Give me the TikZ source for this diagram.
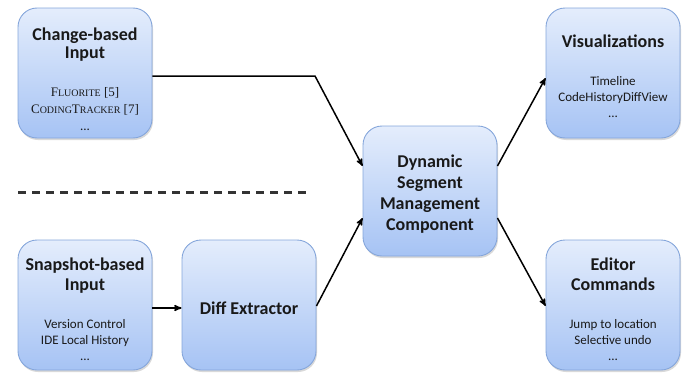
\documentclass[tikz,border=0pt]{standalone}
\usepackage{fontspec}
\usepackage{tikz}
\usetikzlibrary{
    arrows,
    shadows,
    positioning,
}
\newfontfamily\calibri{Carlito}
\newfontfamily\timesfont{Liberation Serif}
\newcommand{\ttl}[1]{{\calibri\bfseries\fontsize{18}{21}\selectfont #1}}
\newcommand{\dtl}[1]{{\calibri\fontsize{13}{16}\selectfont #1}}
\newcommand{\fakesc}[2]{#1{\fontsize{10}{16}\selectfont #2}}
\newcommand{\citesc}[2]{{\timesfont\fontsize{13}{16}\selectfont #1 [#2]}}
\newcommand{\push}[1]{\rule{0pt}{#1}}
\definecolor{boxTop}{HTML}{E4EDFC}
\definecolor{boxBottom}{HTML}{A6C3F4}
\definecolor{boxBorder}{HTML}{85A6DB}

\begin{document}
\begin{tikzpicture}[x=1pt,y=-1pt,>=stealth',auto]

    \tikzstyle{commonNode}=[align=center, font=\calibri\fontsize{13}{16}\selectfont, text=black!90]
    \tikzstyle{module}=[commonNode, rectangle, rounded corners=19pt, draw=boxBorder, line width=0.9pt,
        top color=boxTop, bottom color=boxBottom, minimum width=134pt, minimum height=130pt, inner sep=0pt,
        drop shadow={shadow xshift=1pt, shadow yshift=-2pt, opacity=0.25, fill=black!60}]
    \tikzstyle{post}=[->, line width=1.5pt, black]
    \tikzstyle{separator}=[line width=3pt, black!80, dash pattern=on 8pt off 6pt]

    \useasboundingbox (0,0) rectangle (690,372);

    % Inputs
    \node at (85,73)  [module] (CBI) {\ttl{\push{25pt}Change-based}\\[2pt]\ttl{Input}\\[22pt]
        \citesc{\fakesc{F}{LUORITE}}{5}\\[1pt]\citesc{\fakesc{C}{ODING}\fakesc{T}{RACKER}}{7}\\[1pt]...};
    \node at (85,305) [module] (SBI) {\ttl{\push{21pt}Snapshot-based}\\[4pt]\ttl{Input}\\[22pt]
        \dtl{Version Control}\\\dtl{IDE Local History}\\...};

    % Processing
    \node at (249,305) [module] (DE)   {\ttl{\push{19pt}Diff Extractor}};
    \node at (430,191) [module] (DSMC) {\ttl{\push{19pt}Dynamic}\\[5pt]\ttl{Segment}\\[5pt]\ttl{Management}\\[5pt]\ttl{Component}};

    % Outputs
    \node at (613,73)  [module] (VIS) {\ttl{\push{19pt}Visualizations}\\[22pt]
        \dtl{Timeline}\\\dtl{CodeHistoryDiffView}\\...};
    \node at (613,305) [module] (EC)  {\ttl{\push{21pt}Editor}\\[4pt]\ttl{Commands}\\[22pt]
        \dtl{Jump to location}\\\dtl{Selective undo}\\...};

    % Separator
    \coordinate (sepL) at (18,192);
    \coordinate (sepR) at (310,192);
    \draw [separator] (sepL) -- (sepR);

    % Connectors
    \coordinate (bend) at (315,76);
    \draw [post] ([yshift=-3pt]CBI.east) -- (bend) -- ([yshift=25pt]DSMC.west);
    \draw [post] ([yshift=-3pt]SBI.east) -- ([yshift=-3pt]DE.west);
    \draw [post] ([yshift=-1pt]DE.east) -- ([yshift=-27pt]DSMC.west);
    \draw [post] ([yshift=25pt]DSMC.east) -- ([yshift=-5pt]VIS.west);
    \draw [post] ([yshift=-27pt]DSMC.east) -- ([yshift=-1pt]EC.west);

\end{tikzpicture}
\end{document}
